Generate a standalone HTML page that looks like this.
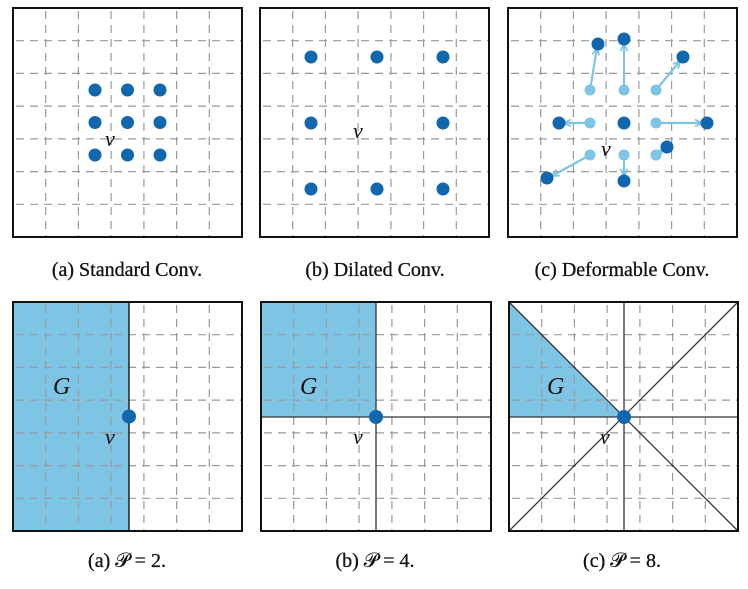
<!DOCTYPE html>
<html><head><meta charset="utf-8"><style>
html,body{margin:0;padding:0;background:#fff;}
svg{display:block;}
text{font-family:"Liberation Serif",serif;fill:#111;}
</style></head><body>
<svg width="748" height="589" viewBox="0 0 748 589" xmlns="http://www.w3.org/2000/svg">
<defs>
<g id="grid">
<path d="M32.7 0V229M65.4 0V229M98.1 0V229M130.9 0V229M163.6 0V229M196.3 0V229M0 32.7H229M0 65.4H229M0 98.1H229M0 130.9H229M0 163.6H229M0 196.3H229" stroke="#9a9a9a" stroke-width="1.2" stroke-dasharray="8,6" stroke-dashoffset="-3" fill="none"/>
</g>
<marker id="ah" viewBox="0 0 10 10" refX="9" refY="5" markerWidth="4" markerHeight="4" orient="auto"><path d="M1 1L9 5L1 9" fill="none" stroke="#7ec4e4" stroke-width="2"/></marker>
</defs>

<!-- top (a) -->
<g transform="translate(13,8)">
<use href="#grid"/>
<g fill="#1167ad">
<circle cx="82" cy="82" r="6.5"/><circle cx="114.5" cy="82" r="6.5"/><circle cx="147" cy="82" r="6.5"/>
<circle cx="82" cy="114.5" r="6.5"/><circle cx="114.5" cy="114.5" r="6.5"/><circle cx="147" cy="114.5" r="6.5"/>
<circle cx="82" cy="147" r="6.5"/><circle cx="114.5" cy="147" r="6.5"/><circle cx="147" cy="147" r="6.5"/>
</g>
<text x="92" y="138" font-size="22" font-style="italic">v</text>
<rect x="0" y="0" width="229" height="229" fill="none" stroke="#111" stroke-width="2"/>
</g>
<text x="127" y="276" font-size="20" text-anchor="middle" stroke="#111" stroke-width="0.3">(a)  Standard Conv.</text>

<!-- top (b) -->
<g transform="translate(260,8)">
<use href="#grid"/>
<g fill="#1167ad">
<circle cx="51" cy="49" r="6.5"/><circle cx="117" cy="49" r="6.5"/><circle cx="183" cy="49" r="6.5"/>
<circle cx="51" cy="115" r="6.5"/><circle cx="183" cy="115" r="6.5"/>
<circle cx="51" cy="181" r="6.5"/><circle cx="117" cy="181" r="6.5"/><circle cx="183" cy="181" r="6.5"/>
</g>
<text x="93" y="130" font-size="22" font-style="italic">v</text>
<rect x="0" y="0" width="229" height="229" fill="none" stroke="#111" stroke-width="2"/>
</g>
<text x="375" y="276" font-size="20" text-anchor="middle" stroke="#111" stroke-width="0.3">(b)  Dilated Conv.</text>

<!-- top (c) -->
<g transform="translate(508,8)">
<use href="#grid"/>
<g stroke="#7ec4e4" stroke-width="2.2" marker-end="url(#ah)" fill="none">
<line x1="82" y1="82" x2="89" y2="40"/>
<line x1="116" y1="82" x2="116" y2="36"/>
<line x1="148" y1="82" x2="172" y2="53"/>
<line x1="82" y1="115" x2="56" y2="115"/>
<line x1="148" y1="115" x2="194" y2="115"/>
<line x1="82" y1="147" x2="44" y2="168"/>
<line x1="116" y1="147" x2="116" y2="168"/>
<line x1="148" y1="147" x2="155" y2="142"/>
</g>
<g fill="#7ec4e4">
<circle cx="82" cy="82" r="5.5"/><circle cx="116" cy="82" r="5.5"/><circle cx="148" cy="82" r="5.5"/>
<circle cx="82" cy="115" r="5.5"/><circle cx="148" cy="115" r="5.5"/>
<circle cx="82" cy="147" r="5.5"/><circle cx="116" cy="147" r="5.5"/><circle cx="148" cy="147" r="5.5"/>
</g>
<g fill="#1167ad">
<circle cx="90" cy="36" r="6.5"/><circle cx="116" cy="31" r="6.5"/><circle cx="175" cy="49" r="6.5"/>
<circle cx="51" cy="115" r="6.5"/><circle cx="116" cy="115" r="6.5"/><circle cx="199" cy="115" r="6.5"/>
<circle cx="39" cy="170" r="6.5"/><circle cx="116" cy="173" r="6.5"/><circle cx="159" cy="139" r="6.5"/>
</g>
<text x="93" y="148" font-size="22" font-style="italic">v</text>
<rect x="0" y="0" width="229" height="229" fill="none" stroke="#111" stroke-width="2"/>
</g>
<text x="622" y="276" font-size="20" text-anchor="middle" stroke="#111" stroke-width="0.3">(c)  Deformable Conv.</text>

<!-- bottom (a) -->
<g transform="translate(13,302)">
<rect x="0" y="0" width="116" height="229" fill="#7ec4e4"/>
<use href="#grid"/>
<line x1="116" y1="0" x2="116" y2="229" stroke="#222" stroke-width="1.5"/>
<circle cx="116" cy="114.5" r="7" fill="#1167ad"/>
<text x="40" y="92" font-size="24" font-style="italic">G</text>
<text x="92" y="142" font-size="22" font-style="italic">v</text>
<rect x="0" y="0" width="229" height="229" fill="none" stroke="#111" stroke-width="2"/>
</g>
<text x="127" y="567" font-size="20" text-anchor="middle" stroke="#111" stroke-width="0.3">(a) 𝒫 = 2.</text>

<!-- bottom (b) -->
<g transform="translate(261,302)">
<rect x="0" y="0" width="115" height="115" fill="#7ec4e4"/>
<use href="#grid"/>
<path d="M115 0V229M0 115H229" stroke="#333" stroke-width="1.3"/>
<circle cx="115" cy="115" r="7" fill="#1167ad"/>
<text x="39" y="92" font-size="24" font-style="italic">G</text>
<text x="92" y="142" font-size="22" font-style="italic">v</text>
<rect x="0" y="0" width="230" height="229" fill="none" stroke="#111" stroke-width="2"/>
</g>
<text x="375" y="567" font-size="20" text-anchor="middle" stroke="#111" stroke-width="0.3">(b) 𝒫 = 4.</text>

<!-- bottom (c) -->
<g transform="translate(509,302)">
<path d="M0 0L115 115H0Z" fill="#7ec4e4"/>
<use href="#grid"/>
<path d="M115 0V229M0 115H229M0 0L229 229M229 0L0 229" stroke="#333" stroke-width="1.3"/>
<circle cx="115" cy="115" r="7" fill="#1167ad"/>
<text x="38" y="92" font-size="24" font-style="italic">G</text>
<text x="91" y="142" font-size="22" font-style="italic">v</text>
<rect x="0" y="0" width="229" height="229" fill="none" stroke="#111" stroke-width="2"/>
</g>
<text x="622" y="567" font-size="20" text-anchor="middle" stroke="#111" stroke-width="0.3">(c) 𝒫 = 8.</text>
</svg>
</body></html>
